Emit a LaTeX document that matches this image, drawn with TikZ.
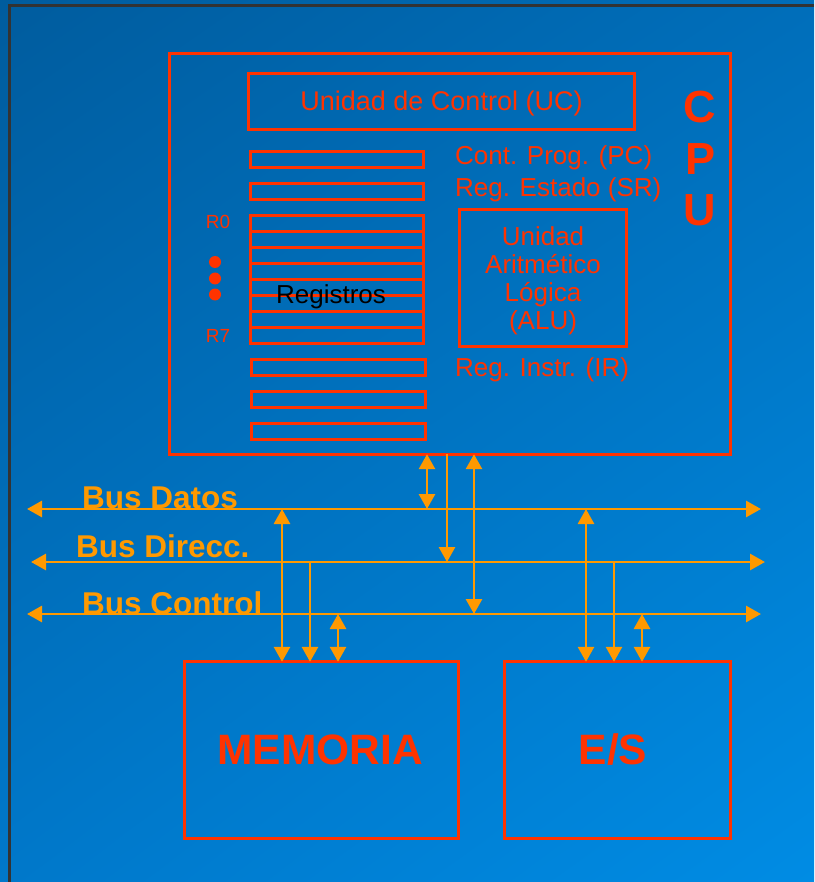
\documentclass[tikz,border=0pt]{standalone}
\usepackage{fontspec}
\setmainfont{Liberation Sans}
\usetikzlibrary{arrows.meta,shadings}
\definecolor{bgA}{RGB}{0,92,158}
\definecolor{bgB}{RGB}{0,110,186}
\definecolor{bgC}{RGB}{0,120,202}
\definecolor{bgD}{RGB}{0,140,228}
\definecolor{cpured}{RGB}{255,51,0}
\definecolor{busor}{RGB}{255,153,0}
\definecolor{framegray}{RGB}{51,51,51}
\begin{document}
\begin{tikzpicture}[x=1pt,y=-1pt,
  >={Triangle[length=15pt,width=16pt]},
  cbox/.style={inner sep=0pt},
  redline/.style={draw=cpured, line width=2.7pt},
  reg/.style={draw=cpured, line width=2.6pt, minimum width=173pt, minimum height=16pt, inner sep=0pt, anchor=north west},
  lbl/.style={text=cpured, font=\fontsize{26}{28}\selectfont, inner sep=0pt},
  small/.style={text=cpured, font=\fontsize{19}{20}\selectfont, inner sep=0pt},
  big/.style={text=cpured, inner sep=0pt, font=\fontsize{42.5}{44}\selectfont\bfseries},
  cpuletter/.style={text=cpured, inner sep=0pt, font=\fontsize{45}{51}\selectfont\bfseries},
  buslbl/.style={text=busor, font=\fontsize{31.5}{33}\selectfont\bfseries, inner sep=0pt, anchor=base west},
  conn/.style={draw=busor, line width=2.8pt}]
% background
\shade[upper left=bgA, upper right=bgB, lower left=bgC, lower right=bgD] (0,0) rectangle (814,882);
\useasboundingbox (0,0) rectangle (814,882);
\draw[framegray, line width=3pt] (9,882) -- (9,6) -- (814,6);

% CPU
\node[cbox, minimum width=560pt, minimum height=400pt] (cpu) at (450,254) {};
\draw[redline] (cpu.north west) rectangle (cpu.south east);
\node[cbox, minimum width=385pt, minimum height=55pt] (uc) at (441.5,101.5) {};
\draw[redline] (uc.north west) rectangle (uc.south east);
\node[lbl, font=\fontsize{27}{28}\selectfont] (uclbl) at (441.5,103.5) {Unidad de Control (UC)};
\node[cpuletter] (cpuC) at (700,107) {C};
\node[cpuletter] (cpuP) at (700,159) {P};
\node[cpuletter] (cpuU) at (700,210) {U};

\node[reg] (pc) at (249,150) {};
\node[reg] (sr) at (249,182) {};
\foreach \i in {0,...,7}{
  \node[reg] (r\i) at (249,{214+16*\i}) {};
}
\node[reg, minimum width=174pt] (x1) at (250,358) {};
\node[reg, minimum width=174pt] (x2) at (250,390) {};
\node[reg, minimum width=174pt] (x3) at (250,422) {};

\node[font=\fontsize{26}{28}\selectfont, text=black, inner sep=0pt] (regs) at (331,297) {Registros};
\node[small] (r0lbl) at (218,222) {R0};
\node[small] (r7lbl) at (218,336) {R7};
\fill[cpured] (215,262) circle (6pt) (215,278.5) circle (6pt) (215,294.5) circle (6pt);

\node[lbl, anchor=west] (pclbl) at (455,158) {Cont. Prog. (PC)};
\node[lbl, anchor=west] (srlbl) at (455,190) {Reg. Estado (SR)};
\node[cbox, minimum width=166pt, minimum height=137pt] (alu) at (543,278) {};
\draw[redline] (alu.north west) rectangle (alu.south east);
\node[lbl, align=center, font=\fontsize{26}{28}\selectfont] (alulbl) at (543,281) {Unidad\\Aritmético\\Lógica\\(ALU)};
\node[lbl, anchor=west] (irlbl) at (455,370) {Reg. Instr. (IR)};

% Memory and I/O
\node[cbox, minimum width=273pt, minimum height=176pt] (mem) at (321.5,750) {};
\draw[redline] (mem.north west) rectangle (mem.south east);
\node[big] (memlbl) at (320,750) {MEMORIA};
\node[cbox, minimum width=225.5pt, minimum height=176pt] (es) at (617.75,750) {};
\draw[redline] (es.north west) rectangle (es.south east);
\node[big] (eslbl) at (613,750) {E/S};

% buses
\coordinate (dL) at (27,509);  \coordinate (dR) at (761,509);
\coordinate (aL) at (31,562);  \coordinate (aR) at (765,562);
\coordinate (cL) at (27,614);  \coordinate (cR) at (761,614);
\draw[conn,<->] (dL) -- (dR);
\draw[conn,<->] (aL) -- (aR);
\draw[conn,<->] (cL) -- (cR);
\node[buslbl] (bd) at (82,508) {Bus Datos};
\node[buslbl] (ba) at (76,557) {Bus Direcc.};
\node[buslbl] (bc) at (82,614) {Bus Control};

% CPU connections
\coordinate (p1) at (427,509);
\coordinate (p2) at (447,562);
\coordinate (p3) at (474,614);
\draw[conn,<->] (cpu.south -| p1) -- (p1);
\draw[conn,->] (cpu.south -| p2) -- (p2);
\draw[conn,<->] (cpu.south -| p3) -- (p3);

% Memory connections
\coordinate (m1) at (282,509);
\coordinate (m2) at (310,562);
\coordinate (m3) at (338,614);
\draw[conn,<->] (m1) -- (mem.north -| m1);
\draw[conn,->] (m2) -- (mem.north -| m2);
\draw[conn,<->] (m3) -- (mem.north -| m3);

% I/O connections
\coordinate (e1) at (586,509);
\coordinate (e2) at (614,562);
\coordinate (e3) at (642,614);
\draw[conn,<->] (e1) -- (es.north -| e1);
\draw[conn,->] (e2) -- (es.north -| e2);
\draw[conn,<->] (e3) -- (es.north -| e3);
\end{tikzpicture}
\end{document}
